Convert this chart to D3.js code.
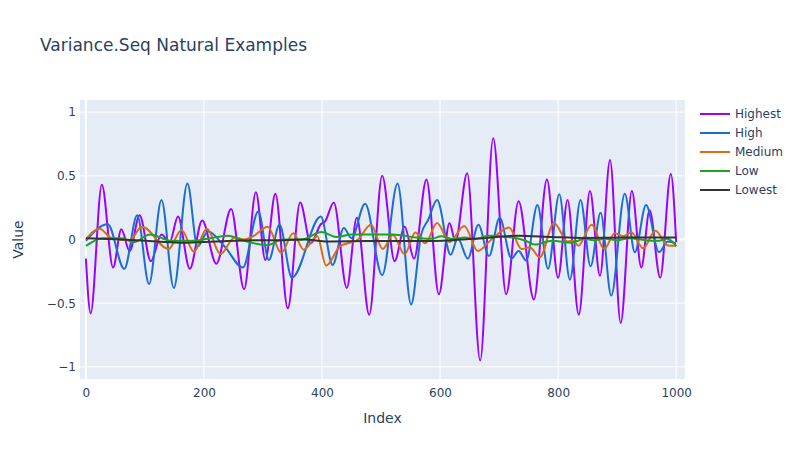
<!DOCTYPE html>
<html>
<head>
<meta charset="utf-8">
<script src="https://cdn.jsdelivr.net/npm/d3@7"></script>
<style>
  body { margin: 0; background: #fff; }
  svg { font-family: "DejaVu Sans", verdana, arial, sans-serif; }
</style>
</head>
<body>
<div id="chart"></div>
<script>
// series: [index, value] at peaks / troughs
let highest = [[0,-0.15],[8,-0.58],[27,0.43],[46,-0.22],[60,0.08],[74,-0.09],[91,0.19],[110,-0.17],[128,0.04],[142,-0.02],[156,0.18],[176,-0.23],[197,0.15],[221,-0.19],[246,0.24],[268,-0.39],[288,0.37],[304,-0.16],[321,0.36],[342,-0.54],[363,0.29],[381,-0.03],[398,0.12],[405,0.14],[420,0.29],[442,-0.38],[459,0.17],[480,-0.59],[502,0.50],[523,-0.17],[540,0.10],[556,-0.15],[577,0.47],[598,-0.43],[616,0.13],[626,-0.015],[646,0.52],[668,-0.95],[690,0.795],[712,-0.43],[733,0.30],[759,-0.47],[781,0.47],[800,-0.30],[816,0.31],[835,-0.59],[854,0.38],[871,-0.285],[888,0.625],[906,-0.655],[925,0.38],[941,-0.22],[955,0.23],[973,-0.30],[991,0.515],[1000,-0.02]];
let high = [[0,-0.01],[37,0.12],[65,-0.23],[87,0.19],[107,-0.35],[128,0.31],[149,-0.38],[172,0.44],[189,-0.055],[207,0.063],[235,-0.055],[266,-0.22],[292,0.22],[310,-0.16],[328,0.115],[349,-0.30],[398,0.18],[418,-0.20],[437,0.09],[450,0.01],[473,0.28],[502,-0.28],[528,0.44],[551,-0.51],[568,0.04],[580,0.155],[595,0.31],[618,-0.12],[630,0.01],[647,-0.15],[665,0.115],[683,-0.13],[701,0.17],[721,-0.15],[733,-0.09],[746,-0.165],[765,0.27],[783,-0.23],[802,0.355],[820,-0.315],[838,0.31],[855,-0.21],[872,0.21],[890,-0.44],[913,0.36],[930,-0.10],[949,0.27],[971,-0.10],[986,-0.015],[1000,-0.03]];
let medium = [[0,0.0],[23,0.085],[44,0.01],[74,-0.005],[95,0.10],[140,-0.075],[162,0.075],[183,-0.095],[205,0.085],[228,-0.115],[252,0.015],[268,0.0],[285,0.03],[308,0.10],[331,-0.105],[351,0.05],[369,-0.08],[392,0.025],[407,-0.205],[430,-0.055],[461,0.0],[483,0.115],[503,-0.075],[520,0.035],[540,-0.115],[558,0.055],[575,-0.03],[595,0.13],[616,-0.02],[641,0.105],[664,-0.09],[687,0.0],[717,0.095],[738,-0.075],[752,-0.06],[769,-0.14],[793,0.13],[816,-0.015],[826,-0.01],[834,-0.05],[857,0.115],[878,-0.075],[896,0.05],[910,0.025],[924,0.057],[944,-0.068],[965,0.068],[986,-0.048],[1000,-0.05]];
let low = [[0,-0.05],[29,0.01],[60,0.01],[82,-0.02],[108,0.04],[145,-0.01],[180,-0.01],[241,0.03],[268,-0.01],[307,-0.045],[333,0.0],[365,0.0],[399,0.058],[425,0.02],[450,0.04],[520,0.04],[560,0.015],[585,0.005],[602,0.025],[622,0.003],[642,0.015],[660,0.003],[681,0.03],[730,0.01],[745,-0.01],[760,-0.04],[790,-0.01],[822,-0.025],[845,0.005],[860,-0.005],[880,0.005],[900,-0.005],[920,0.01],[948,-0.005],[970,-0.01],[985,0.005],[1000,-0.05]];
let lowest = [[0,0.01],[60,0.0],[120,-0.015],[165,-0.025],[220,-0.015],[290,-0.005],[335,-0.005],[370,0.0],[410,-0.015],[480,-0.012],[560,-0.012],[620,-0.005],[673,0.01],[732,0.03],[790,0.02],[842,0.012],[920,0.015],[1000,0.015]];

let seriesNames = ["Highest", "High", "Medium", "Low", "Lowest"];
let seriesData = [highest, high, medium, low, lowest];
let colors = ["#9d00ff", "#1a6ed2", "#dd6a14", "#1ca51c", "#333333"];
let xTicks = [0, 200, 400, 600, 800, 1000];
let yTicks = [-1, -0.5, 0, 0.5, 1];

let width = 800, height = 460;
let plot = {left: 80, right: 685, top: 100, bottom: 379};
let font = "\"DejaVu Sans\", verdana, arial, sans-serif";

let svg = d3.select("#chart")
    .append("svg")
    .attr("width", width)
    .attr("height", height);

let x = d3.scaleLinear().domain([-10, 1015]).range([plot.left, plot.right]);
let y = d3.scaleLinear().domain([-1.095, 1.095]).range([plot.bottom, plot.top]);

svg.append("rect")
    .attr("x", plot.left).attr("y", plot.top)
    .attr("width", plot.right - plot.left)
    .attr("height", plot.bottom - plot.top)
    .attr("fill", "#e5ecf6");

// grid
svg.append("g").selectAll("line").data(xTicks).enter().append("line")
    .attr("x1", d => x(d)).attr("x2", d => x(d))
    .attr("y1", plot.top).attr("y2", plot.bottom)
    .attr("stroke", "#fff")
    .attr("stroke-width", d => d === 0 ? 2 : 1);

svg.append("g").selectAll("line").data(yTicks).enter().append("line")
    .attr("x1", plot.left).attr("x2", plot.right)
    .attr("y1", d => y(d)).attr("y2", d => y(d))
    .attr("stroke", "#fff")
    .attr("stroke-width", d => d === 0 ? 2 : 1);

// tick labels
let xAxis = svg.append("g")
    .attr("transform", `translate(0,${plot.bottom})`)
    .call(d3.axisBottom(x).tickValues(xTicks).tickSize(0).tickPadding(9)
        .tickFormat(d3.format("d")));
let yAxis = svg.append("g")
    .attr("transform", `translate(${plot.left},0)`)
    .call(d3.axisLeft(y).tickValues(yTicks).tickSize(0).tickPadding(4)
        .tickFormat(d => String(d).replace("-", "\u2212")));
[xAxis, yAxis].forEach(g => {
    g.select(".domain").remove();
    g.selectAll("text")
        .style("font-family", font)
        .style("font-size", "12px")
        .attr("fill", "#2a3f5f");
});

// lines
svg.append("clipPath").attr("id", "plotclip")
    .append("rect")
    .attr("x", plot.left).attr("y", plot.top)
    .attr("width", plot.right - plot.left)
    .attr("height", plot.bottom - plot.top);

let line = d3.line()
    .x(d => x(d[0]))
    .y(d => y(d[1]))
    .curve(d3.curveMonotoneX);

svg.append("g").attr("clip-path", "url(#plotclip)")
    .selectAll("path").data(seriesData).enter().append("path")
    .attr("d", line)
    .attr("fill", "none")
    .attr("stroke", (d, i) => colors[i])
    .attr("stroke-width", 2)
    .attr("stroke-linejoin", "round");

// titles
svg.append("text")
    .attr("x", 40).attr("y", 51)
    .style("font-size", "17px")
    .attr("fill", "#2a3f5f")
    .text("Variance.Seq Natural Examples");

svg.append("text")
    .attr("x", (plot.left + plot.right) / 2).attr("y", 423)
    .style("text-anchor", "middle")
    .style("font-size", "14px")
    .attr("fill", "#2a3f5f")
    .text("Index");

svg.append("text")
    .attr("transform", `translate(23, ${(plot.top + plot.bottom) / 2}) rotate(-90)`)
    .style("text-anchor", "middle")
    .style("font-size", "14px")
    .attr("fill", "#2a3f5f")
    .text("Value");

// legend
let legend = svg.append("g").selectAll("g").data(seriesNames).enter().append("g")
    .attr("transform", (d, i) => `translate(700, ${114 + i * 19})`);
legend.append("line")
    .attr("x1", 0).attr("x2", 30)
    .attr("stroke", (d, i) => colors[i])
    .attr("stroke-width", 2);
legend.append("text")
    .attr("x", 35).attr("dy", "0.35em")
    .style("font-size", "12px")
    .attr("fill", "#2a3f5f")
    .text(d => d);
</script>
</body>
</html>
